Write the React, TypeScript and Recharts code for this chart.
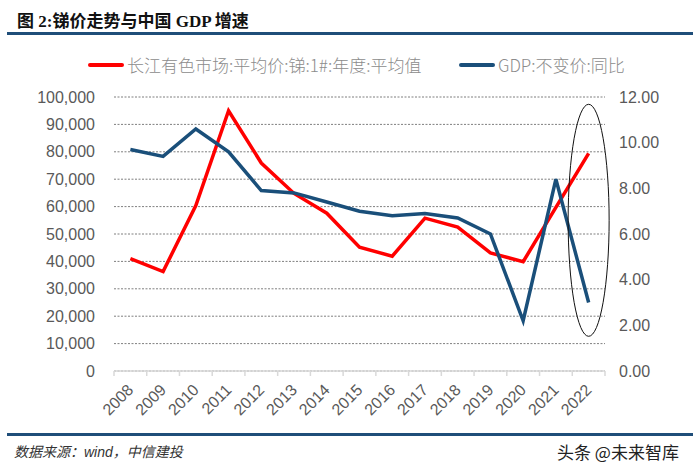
import { CartesianGrid, Line, LineChart, ReferenceDot, XAxis, YAxis } from "recharts";

const YEARS = ["2008", "2009", "2010", "2011", "2012", "2013", "2014", "2015", "2016", "2017", "2018", "2019", "2020", "2021", "2022"];
// 长江有色市场:平均价:锑:1#:年度:平均值 (元/吨)
const ANTIMONY = [41000, 36300, 60400, 95000, 75900, 64800, 57600, 45200, 41900, 55800, 52500, 43100, 39900, 59700, 79400];
// GDP:不变价:同比 (%)
const GDP = [9.7, 9.4, 10.6, 9.6, 7.9, 7.8, 7.4, 7.0, 6.8, 6.9, 6.7, 6.0, 2.2, 8.4, 3.0];
const LEFT_TICKS = [0, 10000, 20000, 30000, 40000, 50000, 60000, 70000, 80000, 90000, 100000];
const RIGHT_TICKS = [0, 2, 4, 6, 8, 10, 12];
// highlighted year and the vertical centre of the ellipse (left-axis units)
const HIGHLIGHT_YEAR = "2022";
const HIGHLIGHT_CENTER = 55000;

const RED = "#FF0000";
const NAVY = "#1A4F7A";
const AXIS_GRAY = "#D9D9D9";
const TICK = { fill: "#595959", fontSize: 16, fontFamily: '"Liberation Sans", Arial, sans-serif' };

const data = YEARS.map((year, i) => ({ year, antimony: ANTIMONY[i], gdp: GDP[i] }));

function YearTick(props: any) {
  const { x, y, payload, index } = props;
  const half = payload?.offset ?? 0;
  const axisY = y - 8;
  const px = x + 4;
  const py = y + 12;
  return (
    <g>
      <line x1={x - half} x2={x - half} y1={axisY} y2={axisY + 5} stroke={AXIS_GRAY} strokeWidth={1.5} />
      {index === YEARS.length - 1 && (
        <line x1={x + half} x2={x + half} y1={axisY} y2={axisY + 5} stroke={AXIS_GRAY} strokeWidth={1.5} />
      )}
      <text x={px} y={py} textAnchor="end" transform={`rotate(-45, ${px}, ${py})`} {...TICK}>
        {payload.value}
      </text>
    </g>
  );
}

function Ellipse(props: any) {
  const { cx, cy } = props;
  if (cx == null || cy == null) return null;
  return <ellipse cx={cx} cy={cy} rx={20.5} ry={116} fill="none" stroke="#111" strokeWidth={1} />;
}

function LegendItem({ color, label, left }: { color: string; label: string; left: number }) {
  return (
    <div style={{ position: "absolute", left, top: 52, display: "flex", alignItems: "center", whiteSpace: "nowrap" }}>
      <div style={{ width: 36, height: 4, background: color, borderRadius: 2, marginRight: 3 }} />
      <span style={{ fontSize: 17, color: "#8C8C8C", fontFamily: '"Noto Sans CJK SC", sans-serif', fontWeight: 300 }}>
        {label}
      </span>
    </div>
  );
}

export default function App() {
  return (
    <div style={{ position: "relative", width: 700, height: 471, background: "#fff", overflow: "hidden" }}>
      <style>{`body{margin:0}`}</style>
      <div
        style={{
          position: "absolute",
          left: 17,
          top: 7,
          fontSize: 17,
          fontWeight: 700,
          color: "#111",
          fontFamily: '"Liberation Serif", "Noto Sans CJK SC", serif',
          whiteSpace: "nowrap",
        }}
      >
        图 2:锑价走势与中国 GDP 增速
      </div>
      <div style={{ position: "absolute", left: 7, top: 32, width: 686, height: 2.5, background: "#1F4E79" }} />

      <LegendItem color={RED} label="长江有色市场:平均价:锑:1#:年度:平均值" left={88} />
      <LegendItem color={NAVY} label="GDP:不变价:同比" left={459} />

      <LineChart width={700} height={471} data={data} margin={{ top: 97, right: 0, bottom: 0, left: 0 }} style={{ position: "absolute", left: 0, top: 0 }}>
        <CartesianGrid yAxisId="left" vertical={false} stroke="#7F7F7F" strokeDasharray="2 1.5" />
        <XAxis
          dataKey="year"
          scale="band"
          height={100}
          interval={0}
          axisLine={{ stroke: AXIS_GRAY, strokeWidth: 1.5 }}
          tickLine={false}
          tick={<YearTick />}
        />
        <YAxis
          yAxisId="left"
          width={114}
          domain={[0, 100000]}
          ticks={LEFT_TICKS}
          interval={0}
          axisLine={false}
          tickLine={false}
          tickMargin={13}
          tick={TICK}
          tickFormatter={(v) => Number(v).toLocaleString("en-US")}
        />
        <YAxis
          yAxisId="right"
          orientation="right"
          width={95}
          domain={[0, 12]}
          ticks={RIGHT_TICKS}
          interval={0}
          axisLine={false}
          tickLine={false}
          tickMargin={8}
          tick={TICK}
          tickFormatter={(v) => Number(v).toFixed(2)}
        />
        <Line yAxisId="left" type="linear" dataKey="antimony" stroke={RED} strokeWidth={3.5} dot={false} isAnimationActive={false} />
        <Line yAxisId="right" type="linear" dataKey="gdp" stroke={NAVY} strokeWidth={3.5} dot={false} isAnimationActive={false} />
        <ReferenceDot yAxisId="left" x={HIGHLIGHT_YEAR} y={HIGHLIGHT_CENTER} shape={<Ellipse />} />
      </LineChart>

      <div style={{ position: "absolute", left: 7, top: 433, width: 686, height: 2.5, background: "#1F4E79" }} />
      <div
        style={{
          position: "absolute",
          left: 14,
          top: 441,
          fontSize: 14,
          fontStyle: "italic",
          color: "#333",
          fontFamily: '"Liberation Sans", "Noto Sans CJK SC", sans-serif',
          whiteSpace: "nowrap",
        }}
      >
        数据来源：wind，中信建投
      </div>
      <div
        style={{
          position: "absolute",
          left: 557,
          top: 439,
          fontSize: 17,
          color: "#222",
          fontFamily: '"Noto Sans CJK SC", sans-serif',
          whiteSpace: "nowrap",
        }}
      >
        头条 @未来智库
      </div>
    </div>
  );
}
